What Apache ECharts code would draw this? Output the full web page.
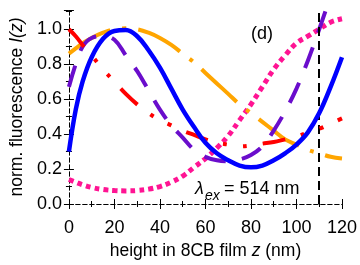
<!DOCTYPE html>
<html>
<head>
<meta charset="utf-8">
<script src="https://cdn.jsdelivr.net/npm/echarts@6/dist/echarts.min.js"></script>
<style>html,body{margin:0;padding:0;background:#fff}#c{width:360px;height:265px}</style>
</head>
<body>
<div id="c"></div>
<script>
var zValues = [0,3,6,10,15,20,25,30,35,40,45,50,55,60,65,70,75,80,85,90,95,100,105,110,115,120];
var blueVals   = [0.30,0.54,0.70,0.84,0.945,0.99,0.995,0.96,0.88,0.78,0.66,0.54,0.44,0.35,0.29,0.25,0.22,0.21,0.22,0.25,0.29,0.34,0.41,0.52,0.67,0.84];
var orangeVals = [0.86,0.89,0.92,0.95,0.98,1.00,1.005,1.00,0.98,0.95,0.91,0.86,0.81,0.75,0.69,0.63,0.57,0.52,0.47,0.42,0.37,0.34,0.31,0.29,0.27,0.26];
var purpleVals = [0.67,0.80,0.90,0.95,0.96,0.94,0.85,0.76,0.65,0.54,0.45,0.38,0.31,0.27,0.25,0.245,0.255,0.28,0.33,0.42,0.53,0.66,0.82,1.00,1.19,null];
var redVals    = [1.00,0.96,0.91,0.85,0.77,0.70,0.63,0.57,0.52,0.48,0.45,0.42,0.395,0.37,0.35,0.34,0.33,0.335,0.345,0.355,0.37,0.385,0.41,0.43,0.46,0.49];
var pinkVals   = [0.14,0.125,0.11,0.095,0.083,0.077,0.075,0.077,0.085,0.10,0.125,0.16,0.21,0.26,0.32,0.39,0.48,0.57,0.67,0.77,0.85,0.92,0.96,1.00,1.04,1.06];
var xTicks = [0,20,40,60,80,100,120];
var yTicks = [0.0,0.2,0.4,0.6,0.8,1.0];
var excitationLine = 110;

function pairs(vals){
  var out = [];
  for (var i = 0; i < zValues.length; i++) { if (vals[i] !== null) out.push([zValues[i], vals[i]]); }
  return out;
}
var FONT = 'Liberation Sans, Arial, Helvetica, sans-serif';
var frameLine = {show:true, lineStyle:{color:'#000', width:1, type:[4,3]}};
function xAx(pos, labels){
  return {type:'value', position:pos, min:0, max:120, interval:20,
    axisLine:frameLine,
    axisTick:{show:true, inside:true, length:5, lineStyle:{color:'#000', width:1}},
    minorTick:{show:true, splitNumber:2, length:3, lineStyle:{color:'#000', width:1}},
    splitLine:{show:false}, minorSplitLine:{show:false},
    axisLabel:{show:labels, color:'#000', fontSize:18, fontFamily:FONT, margin:15}};
}
function yAx(pos, labels){
  return {type:'value', position:pos, min:0, max:1.11, interval:0.2,
    axisLine:frameLine,
    axisTick:{show:true, inside:true, length:5, lineStyle:{color:'#000', width:1}},
    minorTick:{show:true, splitNumber:2, length:3, lineStyle:{color:'#000', width:1}},
    splitLine:{show:false}, minorSplitLine:{show:false},
    axisLabel:{show:labels, color:'#000', fontSize:18, fontFamily:FONT, margin:7, showMaxLabel:false,
      formatter:function(v){ return yTicks.some(function(t){return Math.abs(t-v)<1e-6;}) ? v.toFixed(1) : ''; }}};
}
var xBottom = xAx('bottom', true);
xBottom.name = '{n|height in 8CB film }{i|z}{n| (nm)}';
xBottom.nameLocation = 'middle';
xBottom.nameGap = 38;
xBottom.nameTextStyle = {rich:{n:{fontSize:17.5, fontFamily:FONT, color:'#000'}, i:{fontSize:17.5, fontFamily:FONT, fontStyle:'italic', color:'#000'}}};
var yLeft = yAx('left', true);
yLeft.name = '{n|norm. fluorescence }{i|I(z)}';
yLeft.nameLocation = 'middle';
yLeft.nameGap = 31;
yLeft.nameTextStyle = {rich:{n:{fontSize:17.5, fontFamily:FONT, color:'#000'}, i:{fontSize:17.5, fontFamily:FONT, fontStyle:'italic', color:'#000'}}};

function ser(name, vals, color, type, width, z){
  return {name:name, type:'line', data:pairs(vals), smooth:0.4, showSymbol:false, symbol:'none', z:z,
    lineStyle:{color:color, width:width, type:type, cap:'butt'}, clip:true, animation:false};
}
var series = [
  ser('pink', pinkVals, '#ff1493', [5,4], 5, 2),
  ser('orange', orangeVals, '#ffa500', [48,12,4,12], 4, 3),
  ser('purple', purpleVals, '#6a0dcc', [22,16], 4, 4),
  ser('red', redVals, '#ff0000', [23,16,4,16,4,16], 4, 5),
  ser('blue', blueVals, '#0000ff', 'solid', 4.5, 6)
];
series[4].markLine = {symbol:'none', silent:true, label:{show:false}, animation:false,
  lineStyle:{color:'#000', width:2, type:[9,5]}, data:[{xAxis:excitationLine}]};

var chart = echarts.init(document.getElementById('c'), null, {renderer:'canvas'});
chart.setOption({
  animation:false,
  grid:{left:58, right:16, top:10, bottom:55, containLabel:false},
  xAxis:[xBottom, xAx('top', false)],
  yAxis:[yLeft, yAx('right', false)],
  series:series,
  graphic:[
    {type:'text', z:100, style:{text:'(d)', x:262, y:34, textAlign:'center', textVerticalAlign:'middle', font:'18px '+FONT, fill:'#000'}},
    {type:'text', z:100, style:{text:'λ', x:195, y:198, textAlign:'left', textVerticalAlign:'bottom', font:'italic 18px '+FONT, fill:'#000'}},
    {type:'text', z:100, style:{text:'ex', x:205, y:203, textAlign:'left', textVerticalAlign:'bottom', font:'italic 14px '+FONT, fill:'#000'}},
    {type:'text', z:100, style:{text:'= 514 nm', x:224, y:198, textAlign:'left', textVerticalAlign:'bottom', font:'18px '+FONT, fill:'#000'}}
  ]
});
</script>
</body>
</html>
